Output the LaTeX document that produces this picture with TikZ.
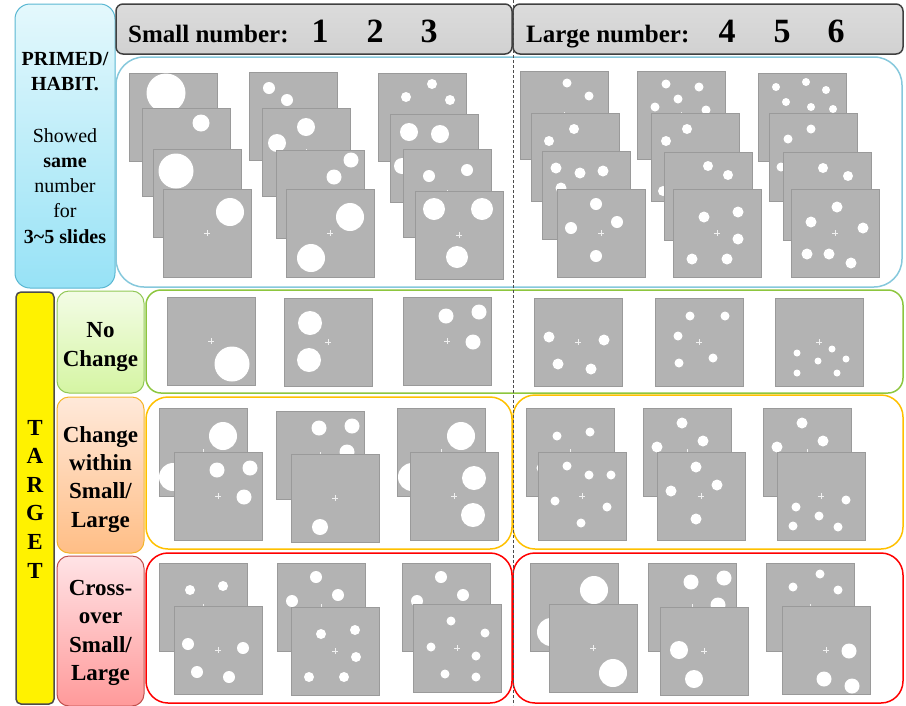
\documentclass[tikz,border=0pt]{standalone}
\usepackage{fontspec}
\setmainfont{Liberation Serif}
\definecolor{slidegray}{HTML}{B3B3B3}
\definecolor{slideedge}{HTML}{9A9A9A}
\definecolor{primedtop}{HTML}{E4F8FC}
\definecolor{primedbot}{HTML}{97E2F6}
\definecolor{primededge}{HTML}{5AB7D2}
\definecolor{primedline}{HTML}{86C8DC}
\definecolor{nctop}{HTML}{F3FCE6}
\definecolor{ncbot}{HTML}{D5F5A3}
\definecolor{ncedge}{HTML}{92C857}
\definecolor{ncline}{HTML}{8DC63F}
\definecolor{cwtop}{HTML}{FFE9DA}
\definecolor{cwbot}{HTML}{FFBE86}
\definecolor{cwedge}{HTML}{F4B42A}
\definecolor{cwline}{HTML}{FFC000}
\definecolor{cotop}{HTML}{FFE3E6}
\definecolor{cobot}{HTML}{FF9A9A}
\definecolor{coedge}{HTML}{C0504D}
\definecolor{coline}{HTML}{FF0000}

% one grey slide: #1,#2 top left corner, #3 list of dx/dy/radius
\newcommand{\dotslide}[3]{%
  \begin{scope}[shift={(#1,#2)}]
    \draw[slidebox] (0,0) rectangle (88,88);
    \draw[fixcross] (41,44) -- (47,44) (44,41) -- (44,47);
    \foreach \dx/\dy/\r in {#3} \fill[white] (\dx,\dy) circle (\r pt);
  \end{scope}}

\begin{document}
\begin{tikzpicture}[x=1pt,y=-1pt,
    slidebox/.style={fill=slidegray,draw=slideedge,line width=0.6pt},
    fixcross/.style={draw=white!80!slidegray,line width=0.7pt},
    headbox/.style={draw=black!75,line width=1.5pt,rounded corners=7pt,
      top color=black!14,middle color=black!4,bottom color=black!18},
    labelbox/.style={line width=1pt,rounded corners=12pt},
    rowbox/.style={line width=1.5pt,rounded corners=22pt},
    headtxt/.style={font=\fontsize{25}{30}\selectfont\bfseries,anchor=base west,inner sep=0pt},
    digit/.style={font=\fontsize{34}{40}\selectfont\bfseries,anchor=base,inner sep=0pt},
    sidetxt/.style={font=\fontsize{20}{24}\selectfont,anchor=base,inner sep=0pt},
    rowtxt/.style={font=\fontsize{23}{28}\selectfont\bfseries,anchor=base,inner sep=0pt}]
  \useasboundingbox (0,0) rectangle (906,705);

  % left labels
  \draw[labelbox,rounded corners=15pt,draw=primededge,top color=primedtop,bottom color=primedbot]
    (15,4) rectangle (115,288);
  \node[sidetxt,font=\fontsize{20}{24}\selectfont\bfseries] (primed) at (65,65) {PRIMED/};
  \node[sidetxt,font=\fontsize{20}{24}\selectfont\bfseries] (habit) at (65,90) {HABIT.};
  \node[sidetxt] (showed) at (65,142) {Showed};
  \node[sidetxt,font=\fontsize{20}{24}\selectfont\bfseries] (same) at (65,167) {same};
  \node[sidetxt] (number) at (65,192) {number};
  \node[sidetxt] (for) at (65,217) {for};
  \node[sidetxt,font=\fontsize{20}{24}\selectfont\bfseries] (slides) at (65,243) {3\textasciitilde5 slides};

  \draw[line width=1.5pt,rounded corners=5pt,draw=black!70,fill=yellow] (16,292) rectangle (54,704);
  \foreach \l [count=\i] in {T,A,R,G,E,T}
    \node[rowtxt] (target\i) at (35,{435+28.6*(\i-1)}) {\l};

  \draw[labelbox,draw=ncedge,top color=nctop,bottom color=ncbot] (57,291) rectangle (144,393);
  \node[rowtxt] (no) at (100.5,337) {No};
  \node[rowtxt] (nochange) at (100.5,366) {Change};

  \draw[labelbox,draw=cwedge,top color=cwtop,bottom color=cwbot] (57,397) rectangle (144,553);
  \node[rowtxt] (cwchange) at (100.5,442) {Change};
  \node[rowtxt] (cwwithin) at (100.5,470) {within};
  \node[rowtxt] (cwsmall) at (100.5,498) {Small/};
  \node[rowtxt] (cwlarge) at (100.5,527) {Large};

  \draw[labelbox,draw=coedge,top color=cotop,bottom color=cobot] (57,556) rectangle (144,706);
  \node[rowtxt] (cocross) at (100.5,595) {Cross-};
  \node[rowtxt] (coover) at (100.5,623) {over};
  \node[rowtxt] (cosmall) at (100.5,652) {Small/};
  \node[rowtxt] (colarge) at (100.5,680) {Large};

  % headers
  \draw[headbox] (116,4) rectangle (512,54);
  \draw[headbox] (513,4) rectangle (903,54);
  \node[headtxt] (small) at (128,42) {Small number:};
  \node[headtxt] (large) at (526,42) {Large number:};
  \foreach \d/\x in {1/320,2/375,3/429,4/727,5/782,6/836}
    \node[digit] (num\d) at (\x,42) {\d};

  % row frames
  \draw[rowbox,rounded corners=28pt,draw=primedline] (116,57) rectangle (902,287);
  \draw[rowbox,rounded corners=15pt,draw=ncline] (146,290) rectangle (903,393);
  \draw[rowbox,draw=cwline] (146,397) rectangle (512,549);
  \draw[rowbox,draw=cwline] (513,395) rectangle (903,549);
  \draw[rowbox,draw=coline] (146,553) rectangle (512,703);
  \draw[rowbox,draw=coline] (513,553) rectangle (903,703);
  \draw[black!70,line width=1pt,dash pattern=on 3pt off 2pt] (513,0) -- (513,705);

  % primed slides
  \dotslide{129}{73}{37/20/19.5}
  \dotslide{142}{108}{59/15/8.5}
  \dotslide{153}{149}{23/22/17.5}
  \dotslide{163}{189}{67/23/14}
  \dotslide{249}{72}{20/16/6, 38/28/6}
  \dotslide{262}{108}{44/19/9, 15/35/9}
  \dotslide{276}{150}{75/10/7.5, 58/27/7.5}
  \dotslide{286}{189}{64/28/14, 25/69/14}
  \dotslide{378}{73}{54/11/5, 28/24/5, 72/27/5}
  \dotslide{390}{114}{19/18/9, 50/20/9, 12/52/8}
  \dotslide{403}{149}{26/27/6, 64/21/6, 45/60/6}
  \dotslide{415}{191}{19/18/11, 67/18/11, 42/66/11}
  \dotslide{520}{71}{47/12/4.5, 69/25/4.5, 20/60/4.5, 60/70/4.5}
  \dotslide{531}{113}{43/16/5, 18/28/5, 30/65/5, 70/60/5}
  \dotslide{542}{151}{14/17/5.5, 38/22/5.5, 61/20/5.5, 19/37/5.5}
  \dotslide{557}{189}{39/15/6, 60/33/6, 14/39/6, 39/67/6}
  \dotslide{637}{71}{29/13/4.5, 62/16/4.5, 41/28/4.5, 18/36/4.5, 69/39/4.5}
  \dotslide{651}{113}{36/16/5, 15/28/5, 12/78/5, 50/60/5, 70/45/5}
  \dotslide{664}{152}{44/14/5, 64/23/5, 20/60/5, 50/70/5, 75/55/5}
  \dotslide{673}{189}{65/23/5.5, 31/28/5.5, 65/50/5.5, 19/70/5.5, 54/70/5.5}
  \dotslide{758}{73}{18/14/4, 48/9/4, 68/17/4, 28/29/4, 53/34/4, 75/36/4}
  \dotslide{769}{113}{42/16/4.5, 19/26/4.5, 12/54/4.5, 50/50/4.5, 70/60/4.5, 35/75/4.5}
  \dotslide{783}{152}{40/16/5, 65/24/5, 15/50/5, 40/60/5, 70/65/5, 30/75/5}
  \dotslide{791}{189}{46/18/5.5, 20/33/5.5, 72/39/5.5, 16/65/5.5, 38/65/5.5, 60/74/5.5}

  % no change
  \dotslide{167}{297}{65/67/17.5}
  \dotslide{284}{298}{26/25/12, 25/62/12}
  \dotslide{403}{297}{43/19/7.5, 76/15/7.5, 70/45/7.5}
  \dotslide{534}{298}{15/39/5.5, 70/42/5.5, 24/66/5.5, 57/71/5.5}
  \dotslide{655}{298}{35/18/4.5, 70/18/4.5, 23/38/4.5, 24/65/4.5, 58/60/4.5}
  \dotslide{775}{298}{57/51/3.5, 22/55/3.5, 43/63/3.5, 71/61/3.5, 22/75/3.5, 62/75/3.5}

  % change within
  \dotslide{159}{408}{64/28/14, 14/69/14}
  \dotslide{174}{452}{43/18/7.5, 76/16/7.5, 70/45/7.5}
  \dotslide{276}{411}{43/17/7.5, 76/15/7.5, 71/41/7.5}
  \dotslide{291}{454}{29/73/8}
  \dotslide{397}{408}{64/28/14, 15/69/14}
  \dotslide{410}{452}{64/26/12, 63/63/12}
  \dotslide{526}{408}{31/28/4.5, 64/24/4.5, 15/60/4.5, 55/70/4.5}
  \dotslide{538}{452}{29/14/4.5, 51/23/4.5, 73/23/4.5, 17/49/4.5, 69/55/4.5, 43/71/4.5}
  \dotslide{643}{408}{39/15/5.5, 60/33/5.5, 14/39/5.5, 39/67/5.5}
  \dotslide{657}{452}{39/15/5.5, 60/33/5.5, 14/39/5.5, 39/67/5.5}
  \dotslide{763}{408}{39/15/5.5, 60/33/5.5, 14/39/5.5, 39/67/5.5}
  \dotslide{777}{452}{19/55/4.5, 42/64/4.5, 69/48/4.5, 16/74/4.5, 61/75/4.5}

  % cross-over
  \dotslide{159}{563}{31/27/5, 64/23/5, 20/60/5, 60/65/5}
  \dotslide{174}{606}{14/38/6, 69/42/6, 23/66/6, 55/71/6}
  \dotslide{277}{563}{39/14/6, 61/32/6, 15/38/6, 40/67/6}
  \dotslide{291}{607}{30/27/5, 64/23/5, 65/50/5, 18/70/5, 53/70/5}
  \dotslide{402}{563}{39/14/6, 61/32/6, 15/38/6, 40/67/6}
  \dotslide{413}{604}{38/17/4.5, 72/29/4.5, 18/43/4.5, 63/52/4.5, 32/70/4.5, 63/73/4.5}
  \dotslide{530}{563}{64/27/14, 21/69/14}
  \dotslide{549}{604}{64/69/14}
  \dotslide{648}{563}{43/19/7.5, 76/15/7.5, 70/42/7.5}
  \dotslide{660}{607}{19/43/9, 34/72/9}
  \dotslide{766}{563}{54/11/4.5, 27/24/4.5, 72/27/4.5}
  \dotslide{782}{606}{67/45/7.5, 42/73/7.5, 70/80/7.5}
\end{tikzpicture}
\end{document}
